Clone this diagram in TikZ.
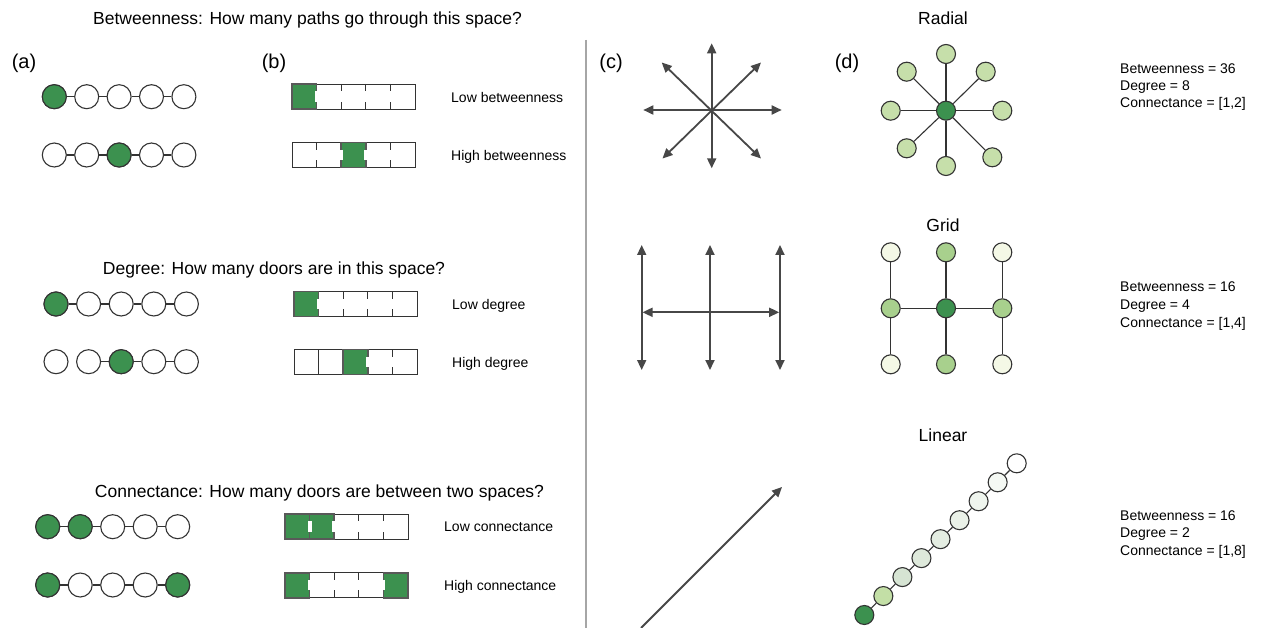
\documentclass[tikz,border=0pt]{standalone}
\usepackage{fontspec}
\setmainfont{Liberation Sans}
\usetikzlibrary{arrows.meta}
\definecolor{dkgreen}{HTML}{3C914F}
\definecolor{radgreen}{HTML}{C6DFAA}
\definecolor{midgreen}{HTML}{A8D08D}
\definecolor{palegreen}{HTML}{F4F8E6}
\definecolor{lin2}{HTML}{C3DFA6}
\definecolor{lin3}{HTML}{D6E4D3}
\definecolor{lin4}{HTML}{DEE9DB}
\definecolor{lin5}{HTML}{E4EDE2}
\definecolor{lin6}{HTML}{EAF1E8}
\definecolor{lin7}{HTML}{EFF5EE}
\definecolor{lin8}{HTML}{F5F9F4}
\definecolor{lin9}{HTML}{FFFFFF}
\definecolor{ink}{HTML}{333333}
\definecolor{arr}{HTML}{474747}
\def\cw{24.6}
\def\ch{25}
\newcommand\roomstrip[4]{%
 \begin{scope}[shift={(#1,#2)}]
  \foreach \g in {#3} {\fill[dkgreen] (\g*\cw,0) rectangle ++(\cw,\ch);}
  \foreach \k in {1,2,3,4} {\draw[wall] (\k*\cw,0) -- ++(0,\ch);}
  \draw[wall] (0,0) rectangle (5*\cw,\ch);
  \foreach \g in {#3} {\draw[gwall] (\g*\cw,0) rectangle ++(\cw,\ch);}
  \foreach \k in {#4} {\fill[white] (\k*\cw-1.9,0.29*\ch) rectangle (\k*\cw+1.9,0.71*\ch);}
 \end{scope}}
\begin{document}
\begin{tikzpicture}[x=1pt,y=-1pt,
  room/.style={circle,draw=ink,line width=1.1pt,minimum size=24pt,inner sep=0pt,fill=white},
  gnode/.style={circle,draw=ink,line width=1.1pt,minimum size=19pt,inner sep=0pt},
  link/.style={draw=ink,line width=1.1pt},
  wall/.style={draw=ink,line width=0.8pt},
  gwall/.style={draw=black!65,line width=1.6pt},
  arrowline/.style={draw=arr,line width=1.8pt,{Triangle[length=10pt,width=9pt]}-{Triangle[length=10pt,width=9pt]}},
  oneway/.style={draw=arr,line width=1.8pt,-{Triangle[length=10pt,width=9pt]}},
  title/.style={font=\fontsize{17.5}{20}\selectfont,anchor=base,inner sep=0pt},
  panel/.style={font=\fontsize{20}{24}\selectfont,anchor=base,inner sep=0pt},
  lbl/.style={font=\fontsize{14}{17}\selectfont,anchor=base west,inner sep=0pt}]
\useasboundingbox (0,0) rectangle (1261,628);
\fill[white] (0,0) rectangle (1261,628);

% titles
\node[title] (t1) at (307.5,24.5) {Betweenness: How many paths go through this space?};
\node[title] (t2) at (274,274.5) {Degree: How many doors are in this space?};
\node[title] (t3) at (319.5,497.5) {Connectance: How many doors are between two spaces?};
\node[title] (t4) at (943,24.5) {Radial};
\node[title] (t5) at (943,232) {Grid};
\node[title] (t6) at (943,441) {Linear};

% panel letters
\node[panel] (pa) at (24,69) {(a)};
\node[panel] (pb) at (274,69) {(b)};
\node[panel] (pc) at (611,69) {(c)};
\node[panel] (pd) at (847,69) {(d)};

% divider
\draw[draw=black!35,line width=1.5pt] (586,40) -- (586,628);

% (a) betweenness
\foreach \i in {1,...,5} {
  \node[room] (ba\i) at ({54.3+32.4*(\i-1)},96.7) {};
  \node[room] (bb\i) at ({54.3+32.4*(\i-1)},155) {};
}
\node[room,fill=dkgreen] at (ba1) {};
\node[room,fill=dkgreen] at (bb3) {};
\draw[link] (ba1)--(ba2) (ba2)--(ba3) (ba3)--(ba4) (ba4)--(ba5);
\draw[link] (bb1)--(bb2) (bb2)--(bb3) (bb3)--(bb4) (bb4)--(bb5);

% degree
\foreach \i in {1,...,5} {
  \node[room] (da\i) at ({56+32.6*(\i-1)},304) {};
  \node[room] (db\i) at ({56+32.6*(\i-1)},361.7) {};
}
\node[room,fill=dkgreen] at (da1) {};
\node[room,fill=dkgreen] at (db3) {};
\draw[link] (da1)--(da2) (da2)--(da3) (da3)--(da4) (da4)--(da5);
\draw[link] (db2)--(db3) (db3)--(db4) (db4)--(db5);

% connectance
\foreach \i in {1,...,5} {
  \node[room] (ca\i) at ({47.7+32.5*(\i-1)},526.7) {};
  \node[room] (cb\i) at ({47.7+32.5*(\i-1)},585) {};
}
\node[room,fill=dkgreen] at (ca1) {};
\node[room,fill=dkgreen] at (ca2) {};
\node[room,fill=dkgreen] at (cb1) {};
\node[room,fill=dkgreen] at (cb5) {};
\draw[link] (ca1)--(ca2) (ca2)--(ca3) (ca3)--(ca4) (ca4)--(ca5);
\draw[link] (cb1)--(cb2) (cb2)--(cb3) (cb3)--(cb4) (cb4)--(cb5);

% (b) room strips
\roomstrip{292}{84}{0}{1,2,3,4}
\roomstrip{292}{142.7}{2}{1,2,3,4}
\roomstrip{294}{291.7}{0}{1,2,3,4}
\roomstrip{294}{349.3}{2}{3,4}
\roomstrip{285}{514}{0,1}{1,2,3,4}
\roomstrip{285}{572.7}{0,4}{1,2,3,4}

\node[lbl] (l1) at (451,103) {Low betweenness};
\node[lbl] (l2) at (451,160.5) {High betweenness};
\node[lbl] (l3) at (452,310) {Low degree};
\node[lbl] (l4) at (452,367) {High degree};
\node[lbl] (l5) at (444,531.5) {Low connectance};
\node[lbl] (l6) at (444,590) {High connectance};

% (c) radial arrows
\coordinate (rn) at (711.7,43.3);
\coordinate (rs) at (711.7,168.3);
\coordinate (rw) at (643.3,110);
\coordinate (re) at (781.7,110);
\coordinate (rnw) at (661.7,62.5);
\coordinate (rne) at (761,62.5);
\coordinate (rsw) at (662.5,158.5);
\coordinate (rse) at (761,158.5);
\draw[arrowline] (rn) -- (rs);
\draw[arrowline] (rw) -- (re);
\draw[arrowline] (rnw) -- (rse);
\draw[arrowline] (rne) -- (rsw);

% (c) grid arrows
\coordinate (g1t) at (641.7,245);
\coordinate (g1b) at (641.7,370);
\coordinate (g2t) at (710,245);
\coordinate (g2b) at (710,370);
\coordinate (g3t) at (780,245);
\coordinate (g3b) at (780,370);
\coordinate (ghl) at (642.5,312.3);
\coordinate (ghr) at (779.2,312.3);
\draw[arrowline] (g1t) -- (g1b);
\draw[arrowline] (g2t) -- (g2b);
\draw[arrowline] (g3t) -- (g3b);
\draw[arrowline] (ghl) -- (ghr);

% (c) linear arrow
\coordinate (ls) at (641,628);
\coordinate (le) at (782,487);
\draw[oneway] (ls) -- (le);

% (d) radial network
\node[gnode,fill=dkgreen] (rdc) at (946,110.7) {};
\node[gnode,fill=radgreen] (rd1) at (946,54) {};
\node[gnode,fill=radgreen] (rd2) at (985.7,71.7) {};
\node[gnode,fill=radgreen] (rd3) at (1002.3,110.7) {};
\node[gnode,fill=radgreen] (rd4) at (992.3,157.3) {};
\node[gnode,fill=radgreen] (rd5) at (946,166) {};
\node[gnode,fill=radgreen] (rd6) at (906.7,148.3) {};
\node[gnode,fill=radgreen] (rd7) at (890.7,110.7) {};
\node[gnode,fill=radgreen] (rd8) at (906.7,71.7) {};
\foreach \i in {1,...,8} {\draw[link] (rdc) -- (rd\i);}

% (d) grid network
\node[gnode,fill=palegreen] (gd11) at (890.7,252.3) {};
\node[gnode,fill=midgreen] (gd12) at (946,252.3) {};
\node[gnode,fill=palegreen] (gd13) at (1002.3,252.3) {};
\node[gnode,fill=midgreen] (gd21) at (890.7,308.3) {};
\node[gnode,fill=dkgreen] (gd22) at (946,308.3) {};
\node[gnode,fill=midgreen] (gd23) at (1002.3,308.3) {};
\node[gnode,fill=palegreen] (gd31) at (890.7,364.3) {};
\node[gnode,fill=midgreen] (gd32) at (946,364.3) {};
\node[gnode,fill=palegreen] (gd33) at (1002.3,364.3) {};
\draw[link] (gd11)--(gd21) (gd21)--(gd31) (gd12)--(gd22) (gd22)--(gd32) (gd13)--(gd23) (gd23)--(gd33);
\draw[link] (gd21)--(gd22) (gd22)--(gd23);

% (d) linear network
\node[gnode,fill=dkgreen] (ln1) at (864.3,615) {};
\foreach \i [count=\c from 2] in {lin2,lin3,lin4,lin5,lin6,lin7,lin8,lin9} {
  \node[gnode,fill=\i] (ln\c) at ({864.3+19.05*(\c-1)},{615-18.96*(\c-1)}) {};
}
\foreach \i [count=\c from 2] in {1,...,8} {\draw[link] (ln\i) -- (ln\c);}

% metrics
\node[lbl] (m11) at (1120,74) {Betweenness = 36};
\node[lbl] (m12) at (1120,91) {Degree = 8};
\node[lbl] (m13) at (1120,108) {Connectance = [1,2]};
\node[lbl] (m21) at (1120,292) {Betweenness = 16};
\node[lbl] (m22) at (1120,309) {Degree = 4};
\node[lbl] (m23) at (1120,327) {Connectance = [1,4]};
\node[lbl] (m31) at (1120,520) {Betweenness = 16};
\node[lbl] (m32) at (1120,537) {Degree = 2};
\node[lbl] (m33) at (1120,555) {Connectance = [1,8]};
\end{tikzpicture}
\end{document}
